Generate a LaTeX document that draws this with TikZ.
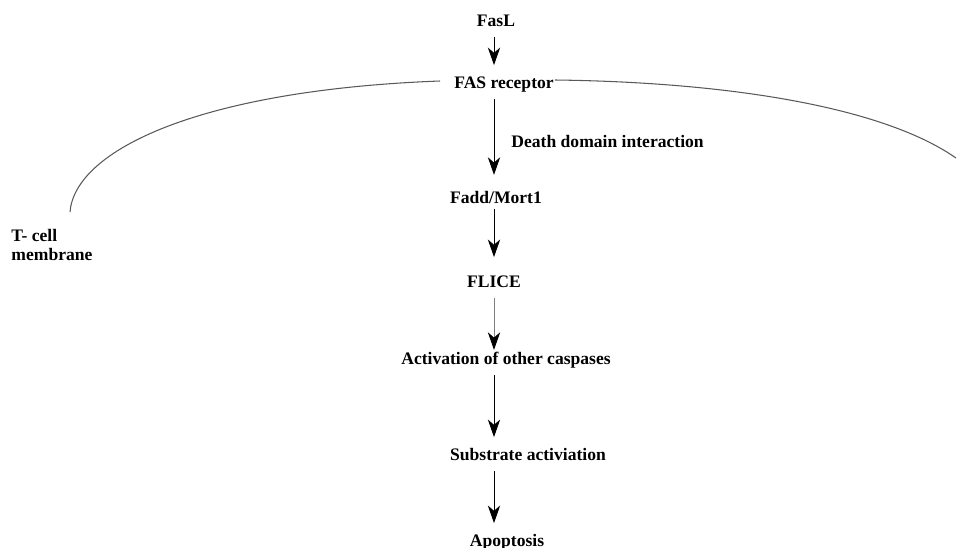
\documentclass[tikz,border=0pt]{standalone}
\usepackage{fontspec}
\setmainfont{Liberation Serif}
\usetikzlibrary{arrows.meta}

\begin{document}
\begin{tikzpicture}[x=0.02cm, y=-0.02cm, >={Stealth[length=10pt, width=7pt, inset=3pt]}, line width=0.5pt]
    \tikzstyle{every node}=[font=\bfseries\fontsize{10}{11}\selectfont, inner sep=0pt]
    \tikzstyle{stage}=[text height=7pt, text depth=2pt]
    \tikzstyle{flow}=[->, shorten <=4pt, shorten >=6pt]
    \tikzstyle{membrane}=[gray!70!black, line width=0.6pt]
    \useasboundingbox (0,0) rectangle (958,548);

    \coordinate (col) at (494,0);
    \node[stage] (fasl)      at (496,22)  {FasL};
    \node[stage] (fas)       at (504,84)  {FAS receptor};
    \node[stage] (fadd)      at (496,199) {Fadd/Mort1};
    \node[stage] (flice)     at (494,283) {FLICE};
    \node[stage] (caspases)  at (506,360) {Activation of other caspases};
    \node[stage] (substrate) at (528,456) {Substrate activiation};
    \node[stage] (apoptosis) at (507,542) {Apoptosis};
    \node[stage, anchor=west] (death) at (511,143) {Death domain interaction};
    \node[anchor=north west, align=left] (tcell) at (11,229) {T- cell\\membrane};

    % membrane
    \coordinate (memL) at (70,212);
    \coordinate (memR) at (956,158);
    \draw[membrane] (memL) .. controls (75,150) and (200,90) .. (440,81);
    \draw[membrane] (555,80) .. controls (720,82) and (880,105) .. (memR);

    \draw[flow] (fasl.south -| col) -- (fas.north -| col);
    \draw[flow, shorten >=9pt] (fas.south -| col) -- (fadd.north -| col);
    \draw[flow, shorten <=1pt, shorten >=10pt] (fadd.south -| col) -- (flice.north -| col);
    \draw[flow, gray, -{Stealth[length=10pt, width=7pt, inset=3pt, color=black]}, shorten >=1pt] (flice.south -| col) -- (caspases.north -| col);
    \draw[flow] (caspases.south -| col) -- (substrate.north -| col);
    \draw[flow] (substrate.south -| col) -- (apoptosis.north -| col);
\end{tikzpicture}
\end{document}
